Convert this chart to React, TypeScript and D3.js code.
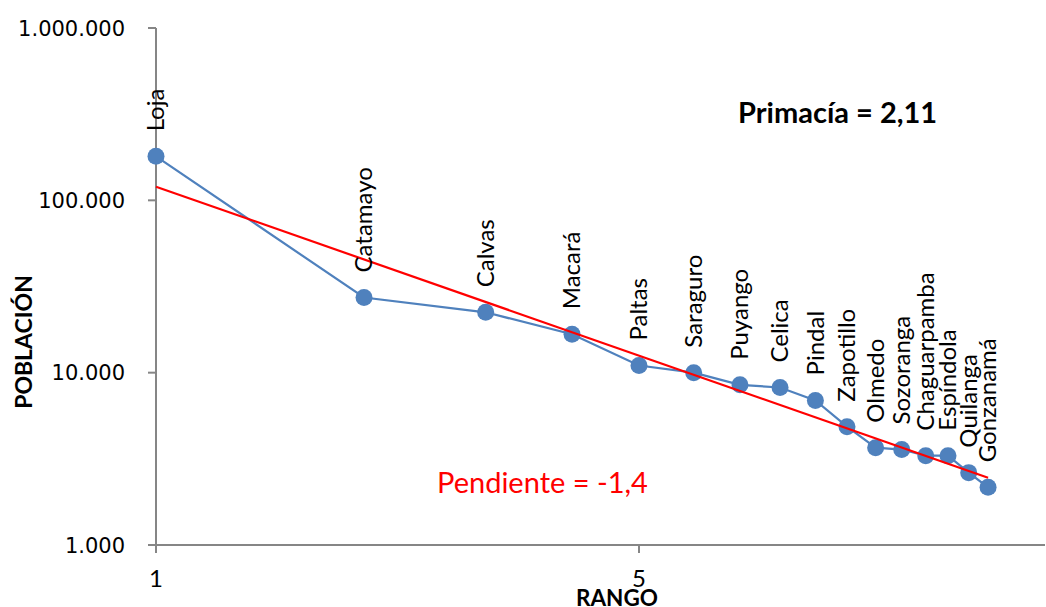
import React, { useEffect, useRef } from 'react';
import * as d3 from 'd3';

// Cantones de Loja ordenados por rango
const cantones = [
  'Loja', 'Catamayo', 'Calvas', 'Macará', 'Paltas', 'Saraguro', 'Puyango', 'Celica',
  'Pindal', 'Zapotillo', 'Olmedo', 'Sozoranga', 'Chaguarpamba', 'Espíndola', 'Quilanga', 'Gonzanamá',
];
const rangos = [1, 2, 3, 4, 5, 6, 7, 8, 9, 10, 11, 12, 13, 14, 15, 16];
const poblacion = [
  180000, 27300, 22400, 16700, 11000, 10000, 8500, 8200,
  6900, 4860, 3670, 3580, 3300, 3300, 2630, 2160,
];
const yTicks = [1000, 10000, 100000, 1000000];
const xTicks = [1, 5];

const App: React.FC = () => {
  const svgRef = useRef<SVGSVGElement>(null);

  useEffect(() => {
    if (!svgRef.current) return;
    d3.select(svgRef.current).selectAll("*").remove();

    const width = 1046;
    const height = 607;
    const labelFont = "Lato, 'Open Sans', sans-serif";

    const svg = d3.select(svgRef.current)
      .attr("width", width)
      .attr("height", height)
      .attr("viewBox", [0, 0, width, height]);

    svg.append("rect").attr("width", width).attr("height", height).attr("fill", "#fff");

    const x = d3.scaleLog().domain([1, 5]).range([156, 639]);
    const y = d3.scaleLog().domain([1000, 1000000]).range([545, 28]);

    const axisColor = "#868686";

    // Eje Y
    svg.append("line")
      .attr("x1", x(1)).attr("x2", x(1))
      .attr("y1", y(1000000)).attr("y2", y(1000))
      .attr("stroke", axisColor).attr("stroke-width", 2);
    svg.selectAll(".ytick")
      .data(yTicks)
      .join("line")
      .attr("x1", x(1) - 8).attr("x2", x(1))
      .attr("y1", d => y(d)).attr("y2", d => y(d))
      .attr("stroke", axisColor).attr("stroke-width", 2);
    svg.selectAll(".ylabel")
      .data(yTicks)
      .join("text")
      .attr("x", 125)
      .attr("y", d => y(d))
      .attr("dy", "0.36em")
      .attr("text-anchor", "end")
      .style("font-family", "'DejaVu Sans', sans-serif")
      .style("font-size", "21px")
      .style("fill", "#000")
      .text(d => d3.format(",")(d).replace(/,/g, "."));

    // Eje X
    svg.append("line")
      .attr("x1", x(1) - 8).attr("x2", 1045)
      .attr("y1", y(1000)).attr("y2", y(1000))
      .attr("stroke", axisColor).attr("stroke-width", 2);
    svg.selectAll(".xtick")
      .data(xTicks)
      .join("line")
      .attr("x1", d => x(d)).attr("x2", d => x(d))
      .attr("y1", y(1000)).attr("y2", y(1000) + 8)
      .attr("stroke", axisColor).attr("stroke-width", 2);
    svg.selectAll(".xlabel")
      .data(xTicks)
      .join("text")
      .attr("x", d => x(d))
      .attr("y", 587)
      .attr("text-anchor", "middle")
      .style("font-family", labelFont)
      .style("font-size", "24px")
      .text(d => d);

    // Títulos de ejes
    svg.append("text")
      .attr("x", 617).attr("y", 606)
      .attr("text-anchor", "middle")
      .style("font-family", labelFont)
      .style("font-size", "22.5px")
      .style("font-weight", "bold")
      .text("RANGO");
    svg.append("text")
      .attr("transform", "translate(32,342) rotate(-90)")
      .attr("text-anchor", "middle")
      .style("font-family", labelFont)
      .style("font-size", "23px")
      .style("font-weight", "bold")
      .text("POBLACIÓN");

    // Línea de tendencia potencial (ajuste en log-log)
    const lx = rangos.map(r => Math.log10(r));
    const ly = poblacion.map(p => Math.log10(p));
    const mx = d3.mean(lx) as number;
    const my = d3.mean(ly) as number;
    const slope = d3.sum(lx, (v, i) => (v - mx) * (ly[i] - my)) / d3.sum(lx, v => (v - mx) ** 2);
    const intercept = my - slope * mx;
    const trend = (r: number) => Math.pow(10, intercept + slope * Math.log10(r));
    const first = rangos[0];
    const last = rangos[rangos.length - 1];

    // Serie de datos
    const pts = rangos.map((r, i) => ({ r, p: poblacion[i], name: cantones[i] }));
    const line = d3.line<{ r: number; p: number }>()
      .x(d => x(d.r))
      .y(d => y(d.p));

    svg.append("path")
      .datum(pts)
      .attr("d", line)
      .attr("fill", "none")
      .attr("stroke", "#4F81BD")
      .attr("stroke-width", 2.2);

    svg.selectAll(".pt")
      .data(pts)
      .join("circle")
      .attr("cx", d => x(d.r))
      .attr("cy", d => y(d.p))
      .attr("r", 8.5)
      .attr("fill", "#4F81BD");

    svg.append("line")
      .attr("x1", x(first)).attr("y1", y(trend(first)))
      .attr("x2", x(last)).attr("y2", y(trend(last)))
      .attr("stroke", "#FF0000")
      .attr("stroke-width", 2.2);

    // Etiquetas de cantones
    svg.selectAll(".lbl")
      .data(pts)
      .join("text")
      .attr("transform", d => `translate(${x(d.r)},${y(d.p) - 25}) rotate(-90)`)
      .attr("dy", "0.35em")
      .attr("text-anchor", "start")
      .style("font-family", labelFont)
      .style("font-size", "24px")
      .text(d => d.name);

    svg.append("text")
      .attr("x", 437).attr("y", 493)
      .style("font-family", labelFont)
      .style("font-size", "29px")
      .style("fill", "#FF0000")
      .text(`Pendiente = ${slope.toFixed(1).replace(".", ",")}`);

    svg.append("text")
      .attr("x", 738).attr("y", 123)
      .style("font-family", labelFont)
      .style("font-size", "29px")
      .style("font-weight", "bold")
      .text("Primacía = 2,11");
  }, []);

  return (
    <svg ref={svgRef} style={{ position: "absolute", left: 0, top: 0, display: "block" }} />
  );
};

export default App;
